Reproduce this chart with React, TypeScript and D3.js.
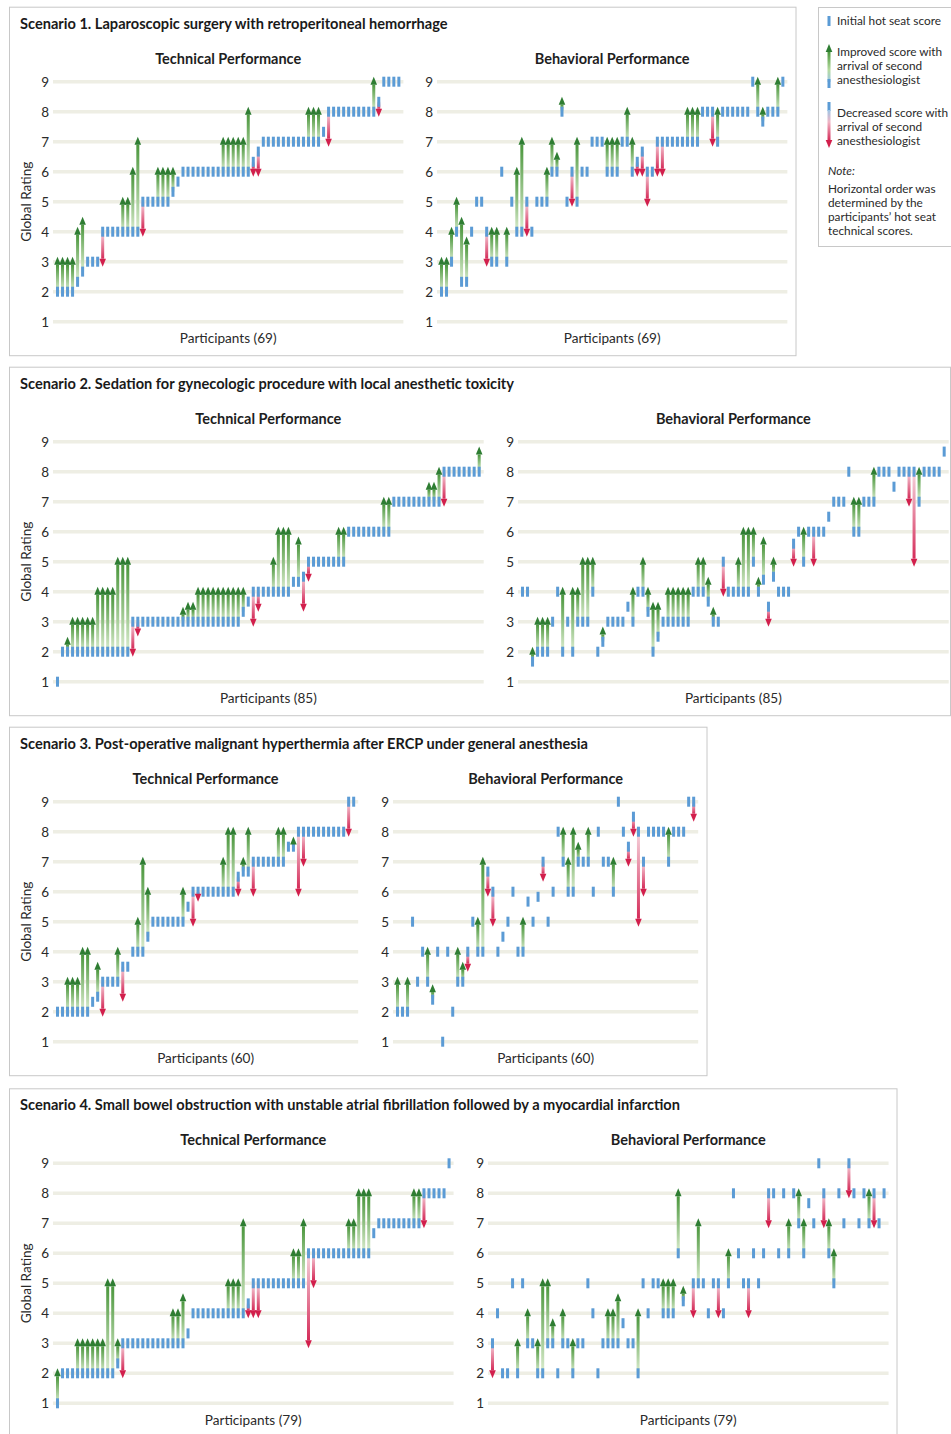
import React from 'react';
import * as d3 from 'd3';

// ---------------- DATA ----------------
const scenarioTitles = [
  'Scenario 1. Laparoscopic surgery with retroperitoneal hemorrhage',
  'Scenario 2. Sedation for gynecologic procedure with local anesthetic toxicity',
  'Scenario 3. Post-operative malignant hyperthermia after ERCP under general anesthesia',
  'Scenario 4. Small bowel obstruction with unstable atrial fibrillation followed by a myocardial infarction',
];
const panelTitles = ['Technical Performance', 'Behavioral Performance'];
const participantCounts = [69, 85, 60, 79];
const ratingTicks = [1, 2, 3, 4, 5, 6, 7, 8, 9];

// Scenario 1 (69)
const s1TechInitial = [2,2,2,2,2.33,2.67,3,3,3,4,4,4,4,4,4,4,4,5,5,5,5,5,5,5.33,5.67,6,6,6,6,6,6,6,6,6,6,6,6,6,6,6.33,6.67,7,7,7,7,7,7,7,7,7,7,7,7,7.33,8,8,8,8,8,8,8,8,8,8,8.33,9,9,9,9];
const s1TechSecond = [3,3,3,3,4,4.33,3,3,3,3,4,4,4,5,5,6,7,4,5,5,6,6,6,6,5.67,6,6,6,6,6,6,6,6,7,7,7,7,7,8,6,6,7,7,7,7,7,7,7,7,7,8,8,8,7.33,7,8,8,8,8,8,8,8,8,9,8,9,9,9,9];
const s1BehavInitial = [2,2,3,4,2.33,2.33,4,5,5,4, 3,3,6,3,5,4,4,5,4,5, 5,5,6,6,8,5,6,5,6,6, 7,7,7,6,6,6,7,7,6,6.33, 6.67,6,6,7,7,7,7,7,7,7, 7,7,8,8,8,7,8,8,8,8, 8,8,9,8,7.67,8,8,8,9];
const s1BehavSecond = [3,3,4,5,4.33,3.67,4,5,5,3, 4,4,6,4,5,6,7,4,4,5, 5,6,7,6.5,8.33,5,5,7,6,6, 7,7,7,7,7,7,7,8,7,6, 6,5,6,6,6,7,7,7,7,8, 8,8,8,8,7,8,8,8,8,8, 8,8,9,9,8,8,8,9,9];

// Scenario 2 (85)
const s2TechInitial = [1,2,2,2,2,2,2,2,2,2, 2,2,2,2,2,3,3,3,3,3, 3,3,3,3,3,3,3,3,3,3, 3,3,3,3,3,3,3,3.33,3.67,4, 4,4,4,4,4,4,4,4.33,4.33,4.5, 5,5,5,5,5,5,5,5,6,6, 6,6,6,6,6,6,6,7,7,7, 7,7,7,7,7,7,7,8,8,8, 8,8,8,8,8];
const s2TechSecond = [1,2,2.33,3,3,3,3,3,4,4, 4,4,5,5,5,2,2.67,3,3,3, 3,3,3,3,3,3.33,3.5,3.5,4,4, 4,4,4,4,4,4,4,4,3.67,3, 3.5,4,4,5,6,6,6,4.33,5.67,3.5, 4.5,5,5,5,5,5,6,6,6,6, 6,6,6,6,6,7,7,7,7,7, 7,7,7,7,7.5,7.5,8,7,8,8, 8,8,8,8,8.67];
const s2BehavInitial = [4,4,1.67,2,2,2,3,4,2,3, 2,3,3,3,4,2,2.33,3,3,3, 3,3.5,3,4,4,3.33,2,2.5,3,3, 3,3,3,3,4,4,4,3.67,3,3, 5,4,4,4,4,4,5,4,4.4,3.5, 4.5,4,4,4,5.6,6,5,6,6,6, 6,6.5,7,7,7,8,6,6,7,7, 7,8,8,8,7.5,8,8,8,8,7, 8,8,8,8,8.67];
const s2BehavSecond = [4,4,2,3,3,3,3,4,4,3, 4,4,5,5,5,2,2.67,3,3,3, 3,3.5,4,4,5,4,3.5,3.5,3,4, 4,4,4,4,4,5,5,4.33,3.33,3, 4,4,4,5,6,6,6,4.33,5.67,3, 5,4,4,4,5,6,6,6,5,6, 6,6.5,7,7,7,8,7,7,7,7, 8,8,8,8,7.5,8,8,7,5,8, 8,8,8,8,8.67];

// Scenario 3 (60)
const s3TechInitial = [2,2,2,2,2,2,2,2.33,2.5,3, 3,3,3,3.5,3.5,4,4,4,4.5,5, 5,5,5,5,5,5,5.5,6,6,6, 6,6,6,6,6,6,6.5,6.67,6.67,7, 7,7,7,7,7,7,7.5,7.5,8,8, 8,8,8,8,8,8,8,8,9,9];
const s3TechSecond = [2,2,3,3,3,4,4,2.33,3.5,2, 3,3,4,2.5,3.5,4,5,7,6,5, 5,5,5,5,5,6,5.5,5,5.83,6, 6,6,6,7,8,8,6,7,8,6, 7,7,7,7,8,8,7.5,7.67,6,7, 8,8,8,8,8,8,8,8,8,9];
const s3BehavInitial = [2,2,2,5,3,4,3,2.4,4,1, 4,2,3,3,4,5,4,4,6.67,6, 4,4.5,5,6,4,4,5.67,5,5.83,7, 5,6,8,7,6,6,7,7,7,6, 8,7,7,6,9,8,7.5,8.5,8,7, 8,8,8,8,7,8,8,8,9,9];
const s3BehavSecond = [3,2,3,5,3,4,4,2.75,4,1, 4,2,4,3.5,3.5,5,5,7,6,5, 4,4.5,5,6,4,5,5.67,5,5.83,6.5, 5,6,8,8,7,8,7.5,7,8,6, 8,7,7,7,9,8,7,8,5,6, 8,8,8,8,8,8,8,8,9,8.5];

// Scenario 4 (79)
const s4TechInitial = [1,2,2,2,2,2,2,2,2,2, 2,2,2.33,3,3,3,3,3,3,3, 3,3,3,3,3,3,3.33,4,4,4, 4,4,4,4,4,4,4,4,4.33,5, 5,5,5,5,5,5,5,5,5,5, 6,6,6,6,6,6,6,6,6,6, 6,6,6,6.67,7,7,7,7,7,7, 7,7,7,8,8,8,8,8,9];
const s4TechSecond = [2,2,2,2,3,3,3,3,3,3, 5,5,3,2,3,3,3,3,3,3, 3,3,3,4,4,4.5,3.33,4,4,4, 4,4,4,4,5,5,5,7,4,4, 4,5,5,5,5,5,5,6,6,7, 3,5,6,6,6,6,6,6,7,7, 8,8,8,6.67,7,7,7,7,7,7, 7,8,8,7,8,8,8,8,9];
const s4BehavInitial = [3,4,2,2,5,2,5,3,3,2, 2,3,3,2,3,3,2,3,3,5, 4,2,3,3,3,3,3.67,3,3,2, 5,4,5,5,4,4,4,6,4.4,null, 5,5,5,4,5,5,4,5,8,6, 5,5,6,5,6,8,8,6,8,6, 8,7,6,7.67,7,9,8,6,5,8, 7,9,8,7,8,7,8,7,8];
const s4BehavSecond = [2,4,2,2,5,3,5,4,3,3, 5,5,3.67,2,4,3,3,3,3,5, 4,2,3,4,4,4.5,3.67,3,3,4, 5,4,5,5,5,5,5,8,4.75,null, 4,7,5,4,5,4,4,6,8,6, 5,4,6,5,6,7,8,6,8,7, 8,8,7,7.67,7,9,7,7,6,8, 7,8,8,7,8,8,7,7,8];

const legendItems = ['Initial hot seat score'];
const legendImproved = ['Improved score with', 'arrival of second', 'anesthesiologist'];
const legendDecreased = ['Decreased score with', 'arrival of second', 'anesthesiologist'];
const legendNote = ['Horizontal order was', 'determined by the', 'participants\u2019 hot seat', 'technical scores.'];

// ---------------- LAYOUT ----------------
const FONT = "Lato, 'Open Sans', 'DejaVu Sans', sans-serif";
const SPACING = 5.02;
const BLUE = '#5b9bd5';
const GREEN_HEAD = '#2e7d32';
const RED_HEAD = '#d21f4c';
const GRID = '#eeeee4';
const BORDER = '#c8c8c8';

const scenarioLayout = [
  { yTop: 81.7, boxRight: 796, lefts: [53, 437] },
  { yTop: 441.7, boxRight: 950.5, lefts: [53, 518] },
  { yTop: 801.7, boxRight: 707, lefts: [53, 393] },
  { yTop: 1163.3, boxRight: 897, lefts: [53, 488] },
];
const scenarioData = [
  [[s1TechInitial, s1TechSecond], [s1BehavInitial, s1BehavSecond]],
  [[s2TechInitial, s2TechSecond], [s2BehavInitial, s2BehavSecond]],
  [[s3TechInitial, s3TechSecond], [s3BehavInitial, s3BehavSecond]],
  [[s4TechInitial, s4TechSecond], [s4BehavInitial, s4BehavSecond]],
];

type Val = number | null;

function Panel({ left, yTop, init, second, title, participants, showYLabel }:
  { left: number; yTop: number; init: Val[]; second: Val[]; title: string; participants: number; showYLabel: boolean }) {
  const n = init.length;
  const x = d3.scaleLinear().domain([0, n - 1]).range([left + 4.5, left + 4.5 + (n - 1) * SPACING]);
  const y = d3.scaleLinear().domain([1, 9]).range([yTop + 240, yTop]);
  const right = left + 9 + (n - 1) * SPACING;
  const cx = (left + right) / 2;
  const pts = init.map((a, i) => ({ i, a, b: second[i] })).filter(d => d.a != null) as { i: number; a: number; b: Val }[];
  const moves = pts.filter(d => d.b != null && Math.abs((d.b as number) - d.a) > 0.01);
  const HH = 8, HW = 3.3, OFF = 5;
  return (
    <g>
      {ratingTicks.map(t => (
        <g key={t}>
          <line x1={left} x2={right} y1={y(t)} y2={y(t)} stroke={GRID} strokeWidth={3.5} />
          <text x={left - 4} y={y(t)} dy="0.36em" textAnchor="end" fontSize={13.5} fill="#2a2a2a" fontFamily={FONT}>{t}</text>
        </g>
      ))}
      <text x={cx} y={yTop - 23} dy="0.35em" textAnchor="middle" fontSize={14.5} fontWeight="bold" fill="#1e1e1e" fontFamily={FONT}>{title}</text>
      <text x={cx} y={yTop + 257} dy="0.35em" textAnchor="middle" fontSize={13.6} fill="#2a2a2a" fontFamily={FONT}>{`Participants (${participants})`}</text>
      {showYLabel && (
        <text transform={`translate(26,${yTop + 120}) rotate(-90)`} dy="0.35em" textAnchor="middle" fontSize={13.6} fill="#2a2a2a" fontFamily={FONT}>Global Rating</text>
      )}
      {moves.map(d => {
        const up = (d.b as number) > d.a;
        const ya = y(d.a), yb = y(d.b as number);
        const tip = up ? yb - OFF : yb + OFF;
        const base = up ? tip + HH : tip - HH;
        const y0 = Math.min(ya, base), y1 = Math.max(ya, base);
        return y1 - y0 > 0.5 ? (
          <rect key={'s' + d.i} x={x(d.i) - 1.5} y={y0} width={3} height={y1 - y0} fill={up ? 'url(#gUp)' : 'url(#gDown)'} />
        ) : null;
      })}
      {pts.map(d => (
        <rect key={'t' + d.i} x={x(d.i) - 1.5} y={y(d.a) - 5} width={3} height={10} fill={BLUE} />
      ))}
      {moves.map(d => {
        const up = (d.b as number) > d.a;
        const yb = y(d.b as number);
        const tip = up ? yb - OFF : yb + OFF;
        const base = up ? tip + HH : tip - HH;
        const xi = x(d.i);
        return <path key={'h' + d.i} d={`M${xi},${tip}L${xi - HW},${base}L${xi + HW},${base}Z`} fill={up ? GREEN_HEAD : RED_HEAD} />;
      })}
    </g>
  );
}

function Legend() {
  const lx = 829;
  return (
    <g fontFamily={FONT} fontSize={11.8} fill="#2a2a2a">
      <rect x={818.5} y={7.5} width={140} height={239} fill="#fff" stroke={BORDER} />
      <rect x={lx - 1.5} y={16} width={3} height={10} fill={BLUE} />
      <text x={837} y={21} dy="0.35em">{legendItems[0]}</text>
      <rect x={lx - 1.5} y={52} width={3} height={30} fill="url(#gUpL)" />
      <rect x={lx - 1.5} y={79} width={3} height={9} fill={BLUE} />
      <path d={`M${lx},44L${lx - 3.3},52L${lx + 3.3},52Z`} fill={GREEN_HEAD} />
      {legendImproved.map((t, i) => <text key={t} x={837} y={52 + i * 14} dy="0.35em">{t}</text>)}
      <rect x={lx - 1.5} y={102} width={3} height={9} fill={BLUE} />
      <rect x={lx - 1.5} y={110} width={3} height={30} fill="url(#gDownL)" />
      <path d={`M${lx},148L${lx - 3.3},140L${lx + 3.3},140Z`} fill={RED_HEAD} />
      {legendDecreased.map((t, i) => <text key={t} x={837} y={113 + i * 14} dy="0.35em">{t}</text>)}
      <text x={828} y={171} dy="0.35em" fontStyle="italic">Note:</text>
      {legendNote.map((t, i) => <text key={t} x={828} y={189 + i * 14} dy="0.35em">{t}</text>)}
    </g>
  );
}

export default function App() {
  return (
    <svg width={951} height={1434} style={{ position: 'absolute', left: 0, top: 0, background: '#fff' }}>
      <defs>
        <linearGradient id="gUp" x1="0" y1="1" x2="0" y2="0">
          <stop offset="0" stopColor="#dcedcf" />
          <stop offset="1" stopColor="#4b973d" />
        </linearGradient>
        <linearGradient id="gDown" x1="0" y1="0" x2="0" y2="1">
          <stop offset="0" stopColor="#f6d3dc" />
          <stop offset="1" stopColor="#d52d5a" />
        </linearGradient>
        <linearGradient id="gUpL" x1="0" y1="1" x2="0" y2="0">
          <stop offset="0" stopColor="#9cc6e6" />
          <stop offset="0.4" stopColor="#b6dba0" />
          <stop offset="1" stopColor="#4b973d" />
        </linearGradient>
        <linearGradient id="gDownL" x1="0" y1="0" x2="0" y2="1">
          <stop offset="0" stopColor="#9cc6e6" />
          <stop offset="0.4" stopColor="#f0b5c4" />
          <stop offset="1" stopColor="#d52d5a" />
        </linearGradient>
      </defs>
      <rect x={0} y={0} width={951} height={1434} fill="#fff" />
      {scenarioLayout.map((s, si) => (
        <g key={si}>
          <rect x={9.5} y={s.yTop - 74.5} width={s.boxRight - 9.5} height={348.5} fill="none" stroke={BORDER} />
          <text x={20} y={s.yTop - 58} dy="0.35em" fontSize={14.6} fontWeight="bold" fill="#1a1a1a" fontFamily={FONT}>{scenarioTitles[si]}</text>
          {scenarioData[si].map((pd, pi) => (
            <Panel key={pi} left={s.lefts[pi]} yTop={s.yTop} init={pd[0]} second={pd[1]} title={panelTitles[pi]}
              participants={participantCounts[si]} showYLabel={pi === 0} />
          ))}
        </g>
      ))}
      <Legend />
    </svg>
  );
}
